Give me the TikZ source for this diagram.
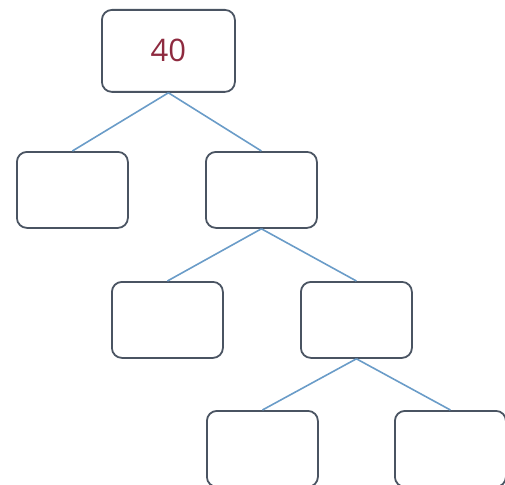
\documentclass[tikz,border=0pt]{standalone}
\usepackage{fontspec}
\setmainfont{Open Sans}
\definecolor{boxline}{HTML}{4A5462}
\definecolor{edgeblue}{HTML}{6A9CC8}
\definecolor{numred}{HTML}{8E2A3F}
\begin{document}
\begin{tikzpicture}[x=1pt,y=-1pt,
  box/.style={draw=boxline,line width=1.8pt,rounded corners=10pt,fill=white,
    minimum width=111pt,minimum height=76pt,inner sep=0pt,anchor=north west},
  edge/.style={draw=edgeblue,line width=1.6pt}]
\useasboundingbox (0,0) rectangle (505,484);
\node[box,minimum width=133pt,minimum height=82pt,text=numred,font=\fontsize{31}{33}\selectfont] (r) at (101,9) {\raisebox{-1pt}{40}};
\node[box] (a) at (16,151) {};
\node[box] (b) at (205,151) {};
\node[box] (c) at (111,281) {};
\node[box] (d) at (300,281) {};
\node[box] (e) at (206,410) {};
\node[box] (f) at (394,410) {};
\draw[edge] (r.south) -- (a.north);
\draw[edge] (r.south) -- (b.north);
\draw[edge] (b.south) -- (c.north);
\draw[edge] (b.south) -- (d.north);
\draw[edge] (d.south) -- (e.north);
\draw[edge] (d.south) -- (f.north);
\end{tikzpicture}
\end{document}
